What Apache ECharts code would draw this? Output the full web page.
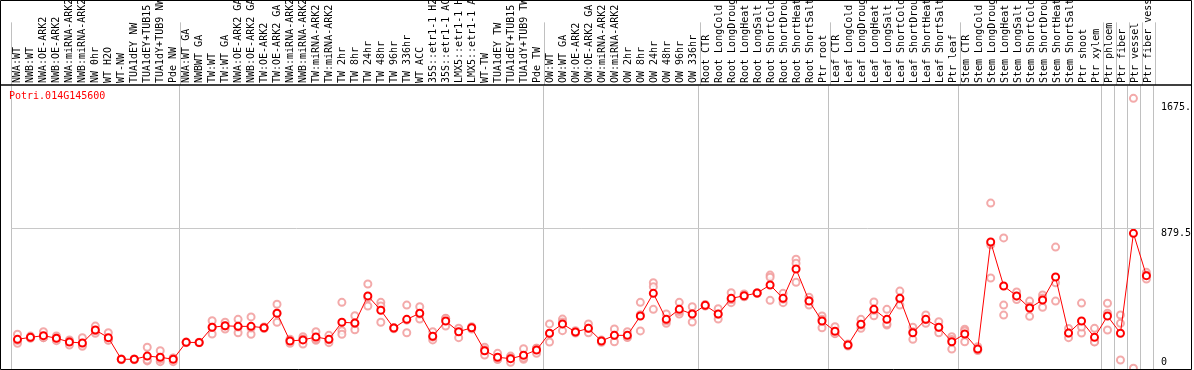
<!DOCTYPE html>
<html>
<head>
<meta charset="utf-8">
<script src="https://cdn.jsdelivr.net/npm/echarts@6/dist/echarts.min.js"></script>
<style>
  html, body {margin:0; padding:0; background:#fff;}
  #main {width:1194px; height:370px;}
</style>
</head>
<body>
<div id="main"></div>
<script>

var geneName = 'Potri.014G145600';

// sample names, left to right
var categories = [
    'NWA:WT','NWB:WT','NWA:OE-ARK2','NWB:OE-ARK2','NWA:miRNA-ARK2','NWB:miRNA-ARK2','NW 0hr','WT H2O','WT-NW',
    'TUA1dEY NW','TUA1dEY+TUB15 NW','TUA1dY+TUB9 NW','Pde NW',
    'NWA:WT GA','NWBWT GA','TW:WT','TW:WT GA','NWA:OE-ARK2 GA','NWB:OE-ARK2 GA','TW:OE-ARK2','TW:OE-ARK2 GA',
    'NWA:miRNA-ARK2','NWB:miRNA-ARK2','TW:miRNA-ARK2','TW:miRNA-ARK2','TW 2hr','TW 8hr','TW 24hr','TW 48hr',
    'TW 96hr','TW 336hr','WT ACC','35S::etr1-1 H2O','35S::etr1-1 ACC','LMX5::etr1-1 H2O','LMX5::etr1-1 ACC',
    'WT-TW','TUA1dEY TW','TUA1dEY+TUB15 TW','TUA1dY+TUB9 TW','Pde TW',
    'OW:WT','OW:WT GA','OW:OE-ARK2','OW:OE-ARK2 GA','OW:miRNA-ARK2','OW:miRNA-ARK2','OW 2hr','OW 8hr',
    'OW 24hr','OW 48hr','OW 96hr','OW 336hr',
    'Root CTR','Root LongCold','Root LongDrought','Root LongHeat','Root LongSalt','Root ShortCold',
    'Root ShortDrought','Root ShortHeat','Root ShortSalt','Ptr root',
    'Leaf CTR','Leaf LongCold','Leaf LongDrought','Leaf LongHeat','Leaf LongSalt','Leaf ShortCold',
    'Leaf ShortDrought','Leaf ShortHeat','Leaf ShortSalt','Ptr leaf',
    'Stem CTR','Stem LongCold','Stem LongDrought','Stem LongHeat','Stem LongSalt','Stem ShortCold',
    'Stem ShortDrought','Stem ShortHeat','Stem ShortSalt','Ptr shoot','Ptr xylem',
    'Ptr phloem','Ptr fiber','Ptr vessel','Ptr fiber vessel'
];

// index of the first sample of each block (grey separators)
var groupStarts = [0, 13, 41, 53, 63, 73, 84, 85, 86, 87, 88];

// mean expression per sample
var means = [
    149,162,173,156,131,125,210,160,18,18,39,31,18,
    129,128,228,238,234,234,225,320,138,145,164,149,261,256,434,340,223,280,320,169,269,199,225,74,31,22,44,79,
    189,250,197,221,138,175,175,302,451,280,346,315,
    372,315,418,435,453,506,418,611,401,269,
    202,112,248,346,280,418,192,280,228,133,
    184,85,788,499,434,355,407,558,190,269,162,
    302,189,845,567
];

// replicate values per sample
var replicates = [
    [182,123,142],[170,158,158],[199,160,160],[171,140,157],[145,112,137],
    [160,112,103],[236,189,205],[192,145,143],[18,15,20],[15,20,18],
    [97,7,13],[74,2,17],[25,2,27],
    [129,127,131],[128,126,130],[271,184,229],[261,217,236],[280,192,230],
    [296,182,224],[230,220,225],[379,261,320],[150,123,141],[166,118,151],
    [199,143,150],[175,127,145],[392,206,182],[304,212,252],[512,368,422],
    [392,261,368],[225,218,226],[374,192,275],[363,282,315],[199,145,163],
    [287,236,285],[215,160,222],[232,217,226],[97,46,80],[57,18,18],
    [39,-2,28],[87,18,27],[57,90,90],
    [250,131,186],[282,206,262],[205,190,196],[250,192,221],[140,130,144],
    [217,133,175],[199,165,161],[392,204,310],[521,495,346],[315,254,271],
    [392,315,331],[363,263,319],
    [378,368,370],[350,282,313],[455,390,409],[447,430,428],[455,450,454],
    [571,556,405],[451,390,413],[675,648,524],[425,374,404],[302,225,280],
    [232,188,186],[118,105,112],[280,221,243],[394,304,340],[346,243,251],
    [466,374,414],[228,149,199],[309,254,277],[265,192,227],[166,85,148],
    [215,133,204],[100,75,80],[1044,552,770],[815,374,308],[460,410,432],
    [400,300,365],[440,360,420],[755,400,520],[220,160,190],[387,190,230],
    [221,133,132],
    [386,320,210],[309,254,13],[1732,-41],[589,545,571]
];

// y axis
var yTicks = [0, 879.5, 1675];
var yTickLabels = ['0', '879.5', '1675.'];
var refLine = 879.5;
var yMin = -46, yMax = 1813;

var monoFont = 'DejaVu Sans Mono';

// flatten replicates into [x, y] points
var repPoints = [];
replicates.forEach(function(list, i){
    list.forEach(function(v){ repPoints.push([i, v]); });
});

function sepLine(index){
    return groupStarts.indexOf(index) >= 0;
}

var chart = echarts.init(document.getElementById('main'), null, {renderer: 'canvas'});

var option = {
    animation: false,
    backgroundColor: '#fff',
    title: {
        text: geneName,
        left: 9,
        top: 91,
        padding: 0,
        textStyle: {color: '#ff0000', fontSize: 10, fontFamily: monoFont, fontWeight: 'normal'}
    },
    grid: [
        {left: 11, right: 39, top: 0, height: 85},     // label header
        {left: 11, right: 39, top: 86, bottom: 1}      // plot
    ],
    xAxis: [
        {
            gridIndex: 0,
            type: 'category',
            data: categories,
            position: 'bottom',
            axisLine: {show: false},
            axisTick: {show: false},
            axisLabel: {
                inside: true,
                rotate: 90,
                interval: 0,
                margin: 2,
                fontSize: 10,
                fontFamily: monoFont,
                color: '#000'
            },
            splitLine: {show: true, interval: sepLine, lineStyle: {color: '#c0c0c0', width: 1}}
        },
        {
            gridIndex: 1,
            type: 'category',
            data: categories,
            axisLine: {show: false},
            axisTick: {show: false},
            axisLabel: {show: false},
            splitLine: {show: true, interval: sepLine, lineStyle: {color: '#c0c0c0', width: 1}}
        }
    ],
    yAxis: [
        {gridIndex: 0, type: 'value', show: false},
        {
            gridIndex: 1,
            type: 'value',
            position: 'right',
            min: yMin,
            max: yMax,
            axisLine: {show: false},
            axisTick: {show: false},
            splitLine: {show: false},
            axisLabel: {
                customValues: yTicks,
                margin: 8,
                fontSize: 10,
                fontFamily: monoFont,
                color: '#000',
                formatter: function(v){
                    var lbl = yTickLabels[yTicks.indexOf(v)];
                    return v === refLine ? '{lo|' + lbl + '}' : lbl;
                },
                rich: {lo: {padding: [10, 0, 0, 0], fontSize: 10, fontFamily: monoFont, color: '#000'}}
            }
        }
    ],
    series: [
        {
            name: 'replicates',
            type: 'scatter',
            xAxisIndex: 1,
            yAxisIndex: 1,
            data: repPoints,
            symbol: 'emptyCircle',
            symbolSize: 7,
            itemStyle: {color: '#f09595', borderColor: '#f09595', borderWidth: 1.2},
            z: 2
        },
        {
            name: 'mean',
            type: 'line',
            xAxisIndex: 1,
            yAxisIndex: 1,
            data: means,
            symbol: 'emptyCircle',
            symbolSize: 7,
            lineStyle: {color: '#ff0000', width: 1},
            itemStyle: {color: '#ff0000', borderColor: '#ff0000', borderWidth: 2},
            markLine: {
                silent: true,
                symbol: 'none',
                label: {show: false},
                lineStyle: {color: '#c8c8c8', type: 'solid', width: 1},
                data: [{yAxis: refLine}]
            },
            z: 3
        }
    ],
    graphic: [
        {
            type: 'rect',
            shape: {x: 0.5, y: 0.5, width: 1191, height: 369},
            style: {fill: null, stroke: '#000', lineWidth: 1},
            z: 100
        },
        {
            type: 'line',
            shape: {x1: 0, y1: 85, x2: 1192, y2: 85},
            style: {stroke: '#000', lineWidth: 1.5},
            z: 100
        }
    ]
};

chart.setOption(option);

</script>
</body>
</html>
